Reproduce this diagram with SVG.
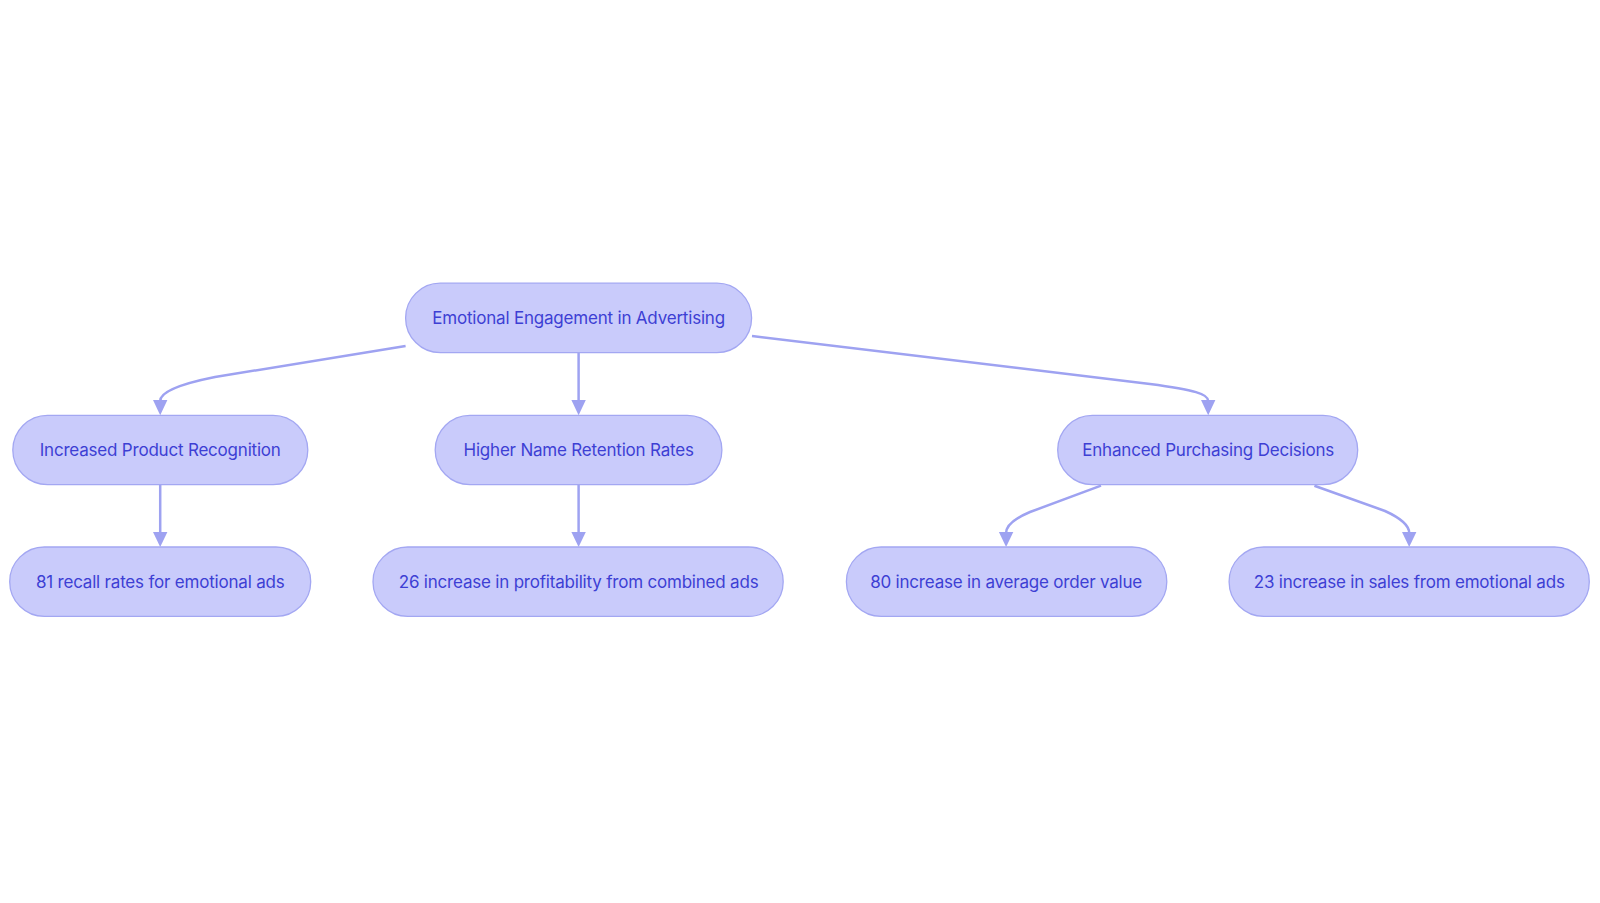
<svg xmlns="http://www.w3.org/2000/svg" width="1600" height="903" viewBox="0 0 1600 903">
<defs>
<style>
.node rect{fill:#c9cbfb;stroke:#a3a7f2;stroke-width:1.3}
.node text{font-family:Inter,"Noto Sans",sans-serif;font-size:17px;fill:#3d3fd4;text-anchor:middle;dominant-baseline:central;letter-spacing:-0.2px}
.edge{fill:none;stroke:#9ea2f1;stroke-width:2.5}
.head{fill:#9ea2f1}
</style>
</defs>
<rect width="1600" height="903" fill="#ffffff"/>
<g id="connectors">
<path class="edge" d="M405.6,346 L215,377 Q160.2,388 160.2,401"/>
<path class="head" d="M153,400 L167.4,400 L160.2,415.3 Z"/>
<path class="edge" d="M578.6,353 L578.6,401"/>
<path class="head" d="M571.4,400 L585.8,400 L578.6,415.3 Z"/>
<path class="edge" d="M752,336 L1150,384 C1195,390 1208.2,394 1208.2,401"/>
<path class="head" d="M1201,400 L1215.4,400 L1208.2,415.3 Z"/>
<path class="edge" d="M160.2,485 L160.2,533"/>
<path class="head" d="M153,532 L167.4,532 L160.2,547 Z"/>
<path class="edge" d="M578.6,485 L578.6,533"/>
<path class="head" d="M571.4,532 L585.8,532 L578.6,547 Z"/>
<path class="edge" d="M1101,485.7 L1030,512 Q1006.1,522 1006.1,533"/>
<path class="head" d="M998.9,532 L1013.3,532 L1006.1,547 Z"/>
<path class="edge" d="M1314.4,485.7 L1385,511 Q1409.2,522 1409.2,533"/>
<path class="head" d="M1402,532 L1416.4,532 L1409.2,547 Z"/>
</g>
<g id="n-root" class="node"><rect x="405.6" y="283.2" width="346" height="69.4" rx="34.7"/><text x="578.6" y="318">Emotional Engagement in Advertising</text></g>
<g id="n-ipr" class="node"><rect x="12.8" y="415.3" width="295" height="69.4" rx="34.7"/><text x="160.2" y="450">Increased Product Recognition</text></g>
<g id="n-hnr" class="node"><rect x="435.2" y="415.3" width="286.7" height="69.4" rx="34.7"/><text x="578.6" y="450">Higher Name Retention Rates</text></g>
<g id="n-epd" class="node"><rect x="1057.7" y="415.3" width="300" height="69.4" rx="34.7"/><text x="1208.2" y="450">Enhanced Purchasing Decisions</text></g>
<g id="n-81" class="node"><rect x="9.7" y="547" width="301" height="69.4" rx="34.7"/><text x="160.2" y="581.7">81 recall rates for emotional ads</text></g>
<g id="n-26" class="node"><rect x="373" y="547" width="410.2" height="69.4" rx="34.7"/><text x="578.6" y="581.7">26 increase in profitability from combined ads</text></g>
<g id="n-80" class="node"><rect x="846.4" y="547" width="320.4" height="69.4" rx="34.7"/><text x="1006.1" y="581.7">80 increase in average order value</text></g>
<g id="n-23" class="node"><rect x="1229.1" y="547" width="360.2" height="69.4" rx="34.7"/><text x="1409.2" y="581.7">23 increase in sales from emotional ads</text></g>
</svg>
